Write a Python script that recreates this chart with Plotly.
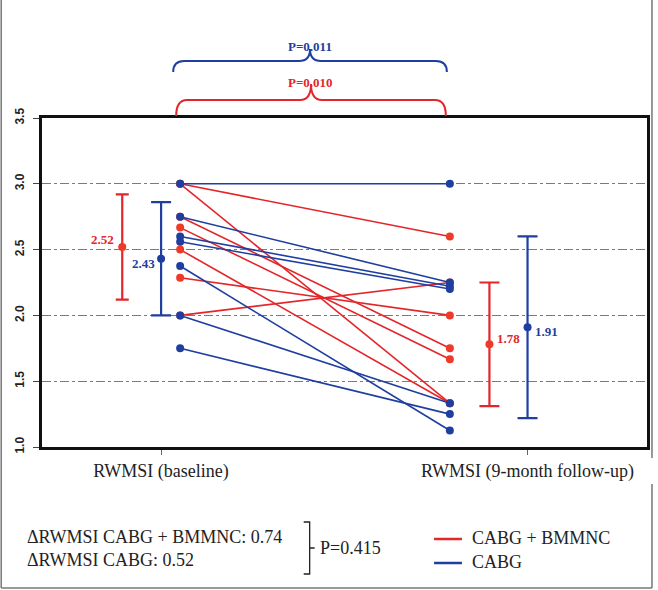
import plotly.graph_objects as go

# ---------------- data ----------------
categories = ["RWMSI (baseline)", "RWMSI (9-month follow-up)"]
tick_positions = [0, 1]

# individual patients (baseline -> 9-month follow-up)
cabg_bmmnc_baseline = [3.0, 3.0, 2.75, 2.667, 2.5, 2.286, 2.0]
cabg_bmmnc_followup = [2.6, 1.333, 1.75, 1.667, 1.333, 2.0, 2.25]
cabg_baseline = [3.0, 2.75, 2.6, 2.56, 2.375, 2.0, 1.75]
cabg_followup = [3.0, 2.25, 2.222, 2.2, 1.125, 1.333, 1.25]

# group means and SDs (baseline, follow-up)
cabg_bmmnc_mean = [2.52, 1.78]
cabg_bmmnc_sd = [0.40, 0.47]
cabg_mean = [2.43, 1.91]
cabg_sd = [0.43, 0.69]

p_cabg_bmmnc = "P=0.010"
p_cabg = "P=0.011"
delta_cabg_bmmnc = 0.74
delta_cabg = 0.52
p_delta = "P=0.415"
legend_names = ["CABG + BMMNC", "CABG"]

# ---------------- style ----------------
RED = "#E3262A"
RED_PT = "#EE3A26"
BLUE = "#1F3FA0"
SERIF = "Liberation Serif, Times New Roman, serif"
SANS = "Liberation Sans, Arial, sans-serif"

W, H = 658, 590
ML, MR, MT, MB = 42, 8, 118, 143
PW, PH = W - ML - MR, H - MT - MB
XR = [-0.325, 1.326]
YR = [1.0, 3.5]

X_BASE, X_FOLLOW = 0.052, 0.788          # patient columns
X_MEAN_RED = [-0.106, 0.896]
X_MEAN_BLUE = [0.0, 1.0]


def px(xpix):
    return (xpix - ML) / PW


def py(ypix):
    return (H - MB - ypix) / PH


def data_to_px(x):
    return ML + (x - XR[0]) / (XR[1] - XR[0]) * PW


def pairs(base, follow):
    xs, ys = [], []
    for b, f in zip(base, follow):
        xs += [X_BASE, X_FOLLOW, None]
        ys += [b, f, None]
    return xs, ys


fig = go.Figure()

for base, follow, lc, mc, name in [
    (cabg_bmmnc_baseline, cabg_bmmnc_followup, RED, RED_PT, legend_names[0]),
    (cabg_baseline, cabg_followup, BLUE, BLUE, legend_names[1]),
]:
    xs, ys = pairs(base, follow)
    fig.add_trace(go.Scatter(
        x=xs, y=ys, mode="lines+markers", name=name, showlegend=False,
        line=dict(color=lc, width=1.6),
        marker=dict(color=mc, size=8),
        cliponaxis=False,
    ))

# mean +/- SD error bars
for xm, mean, sd, col, cap in [
    (X_MEAN_RED, cabg_bmmnc_mean, cabg_bmmnc_sd, RED, [6.5, 10]),
    (X_MEAN_BLUE, cabg_mean, cabg_sd, BLUE, [10, 10]),
]:
    for i in range(2):
        fig.add_trace(go.Scatter(
            x=[xm[i]], y=[mean[i]], mode="markers", showlegend=False,
            marker=dict(color=col if col == BLUE else RED_PT, size=8),
            error_y=dict(type="data", array=[sd[i]], color=col,
                         thickness=2.2, width=cap[i]),
        ))

annotations = []
# mean labels
mean_label_specs = [
    (X_MEAN_RED[0], cabg_bmmnc_mean[0], RED, "right", -6, 7),
    (X_MEAN_BLUE[0], cabg_mean[0], BLUE, "right", -4, -5),
    (X_MEAN_RED[1], cabg_bmmnc_mean[1], RED, "left", 6, 6),
    (X_MEAN_BLUE[1], cabg_mean[1], BLUE, "left", 5, -4),
]
for x, m, col, anchor, xs, ys in mean_label_specs:
    annotations.append(dict(
        x=x, y=m, xref="x", yref="y", text=f"{m:.2f}", showarrow=False,
        xanchor=anchor, yanchor="middle", xshift=xs, yshift=ys,
        font=dict(family=SERIF, size=13, color=col, weight="bold"),
    ))

# significance braces above the plot
bx0 = data_to_px(X_BASE) - 6
bx1 = data_to_px(X_FOLLOW) - 4
bxc = (bx0 + bx1) / 2


def brace(x0, x1, y_end, y_bar, y_peak, r=11):
    xc = (x0 + x1) / 2
    pts = [
        f"M {px(x0)},{py(y_end)}",
        f"Q {px(x0)},{py(y_bar)} {px(x0 + r)},{py(y_bar)}",
        f"L {px(xc - r)},{py(y_bar)}",
        f"Q {px(xc)},{py(y_bar)} {px(xc)},{py(y_peak)}",
        f"Q {px(xc)},{py(y_bar)} {px(xc + r)},{py(y_bar)}",
        f"L {px(x1 - r)},{py(y_bar)}",
        f"Q {px(x1)},{py(y_bar)} {px(x1)},{py(y_end)}",
    ]
    return " ".join(pts)


shapes = [
    dict(type="path", xref="paper", yref="paper",
         path=brace(bx0 - 1, bx1 + 1, 72, 61, 49), line=dict(color=BLUE, width=2)),
    dict(type="path", xref="paper", yref="paper",
         path=brace(bx0 + 2, bx1, 116, 100, 84), line=dict(color=RED, width=2)),
]
annotations.append(dict(x=px(bxc), y=py(37), xref="paper", yref="paper",
                        text=p_cabg, showarrow=False,
                        font=dict(family=SERIF, size=13, color=BLUE, weight="bold")))
annotations.append(dict(x=px(bxc), y=py(73), xref="paper", yref="paper",
                        text=p_cabg_bmmnc, showarrow=False,
                        font=dict(family=SERIF, size=13, color=RED, weight="bold")))

# bottom text block
annotations.append(dict(x=px(25), y=py(537), xref="paper", yref="paper",
                        xanchor="left", yanchor="middle", showarrow=False,
                        text=f"\u0394RWMSI CABG + BMMNC: {delta_cabg_bmmnc:.2f}",
                        font=dict(family=SERIF, size=18, color="#222")))
annotations.append(dict(x=px(25), y=py(560), xref="paper", yref="paper",
                        xanchor="left", yanchor="middle", showarrow=False,
                        text=f"\u0394RWMSI CABG: {delta_cabg:.2f}",
                        font=dict(family=SERIF, size=18, color="#222")))
shapes.append(dict(type="path", xref="paper", yref="paper",
                   path=(f"M {px(305)},{py(522)} L {px(311)},{py(522)} "
                         f"L {px(311)},{py(574)} L {px(305)},{py(574)} "
                         f"M {px(311)},{py(548)} L {px(316)},{py(548)}"),
                   line=dict(color="#222", width=1.3)))
annotations.append(dict(x=px(319), y=py(548), xref="paper", yref="paper",
                        xanchor="left", yanchor="middle", showarrow=False,
                        text=p_delta,
                        font=dict(family=SERIF, size=18, color="#222")))

# legend drawn manually
for i, (name, col) in enumerate(zip(legend_names, [RED, BLUE])):
    yy = 539 + 24 * i
    shapes.append(dict(type="line", xref="paper", yref="paper",
                       x0=px(436), x1=px(464), y0=py(yy), y1=py(yy),
                       line=dict(color=col, width=2.5)))
    annotations.append(dict(x=px(472), y=py(yy - 1), xref="paper", yref="paper",
                            xanchor="left", yanchor="middle", showarrow=False,
                            text=name,
                            font=dict(family=SERIF, size=18, color="#222")))

# outer frame
frame_col = "#777"
shapes += [
    dict(type="line", xref="paper", yref="paper", x0=px(1), x1=px(1),
         y0=py(0), y1=py(588), line=dict(color=frame_col, width=1.5)),
    dict(type="line", xref="paper", yref="paper", x0=px(655), x1=px(655),
         y0=py(0), y1=py(458), line=dict(color=frame_col, width=1.5)),
    dict(type="line", xref="paper", yref="paper", x0=px(655), x1=px(655),
         y0=py(484), y1=py(588), line=dict(color=frame_col, width=1.5)),
    dict(type="line", xref="paper", yref="paper", x0=px(1), x1=px(655),
         y0=py(588), y1=py(588), line=dict(color=frame_col, width=1.5)),
]

fig.update_layout(
    width=W, height=H,
    margin=dict(l=ML, r=MR, t=MT, b=MB, pad=0),
    paper_bgcolor="white", plot_bgcolor="white",
    showlegend=False,
    shapes=shapes, annotations=annotations,
    xaxis=dict(
        range=XR, tickvals=tick_positions, ticktext=categories,
        ticks="outside", ticklen=5, tickcolor="#666", tickwidth=1,
        tickfont=dict(family=SERIF, size=18, color="#222"),
        ticklabelstandoff=0,
        showgrid=False, zeroline=False,
        showline=True, mirror=True, linewidth=3, linecolor="#111",
    ),
    yaxis=dict(
        range=YR, dtick=0.5, tick0=1.0, tickformat=".1f", tickangle=-90,
        ticks="outside", ticklen=6, tickcolor="#444", tickwidth=1,
        tickfont=dict(family=SANS, size=12, color="#222", weight="bold"),
        ticklabelstandoff=4,
        showgrid=True, gridcolor="#7a7a7a", gridwidth=1, griddash="dashdot",
        zeroline=False,
        showline=True, mirror=True, linewidth=3, linecolor="#111",
    ),
)

fig.write_html("out.html")
